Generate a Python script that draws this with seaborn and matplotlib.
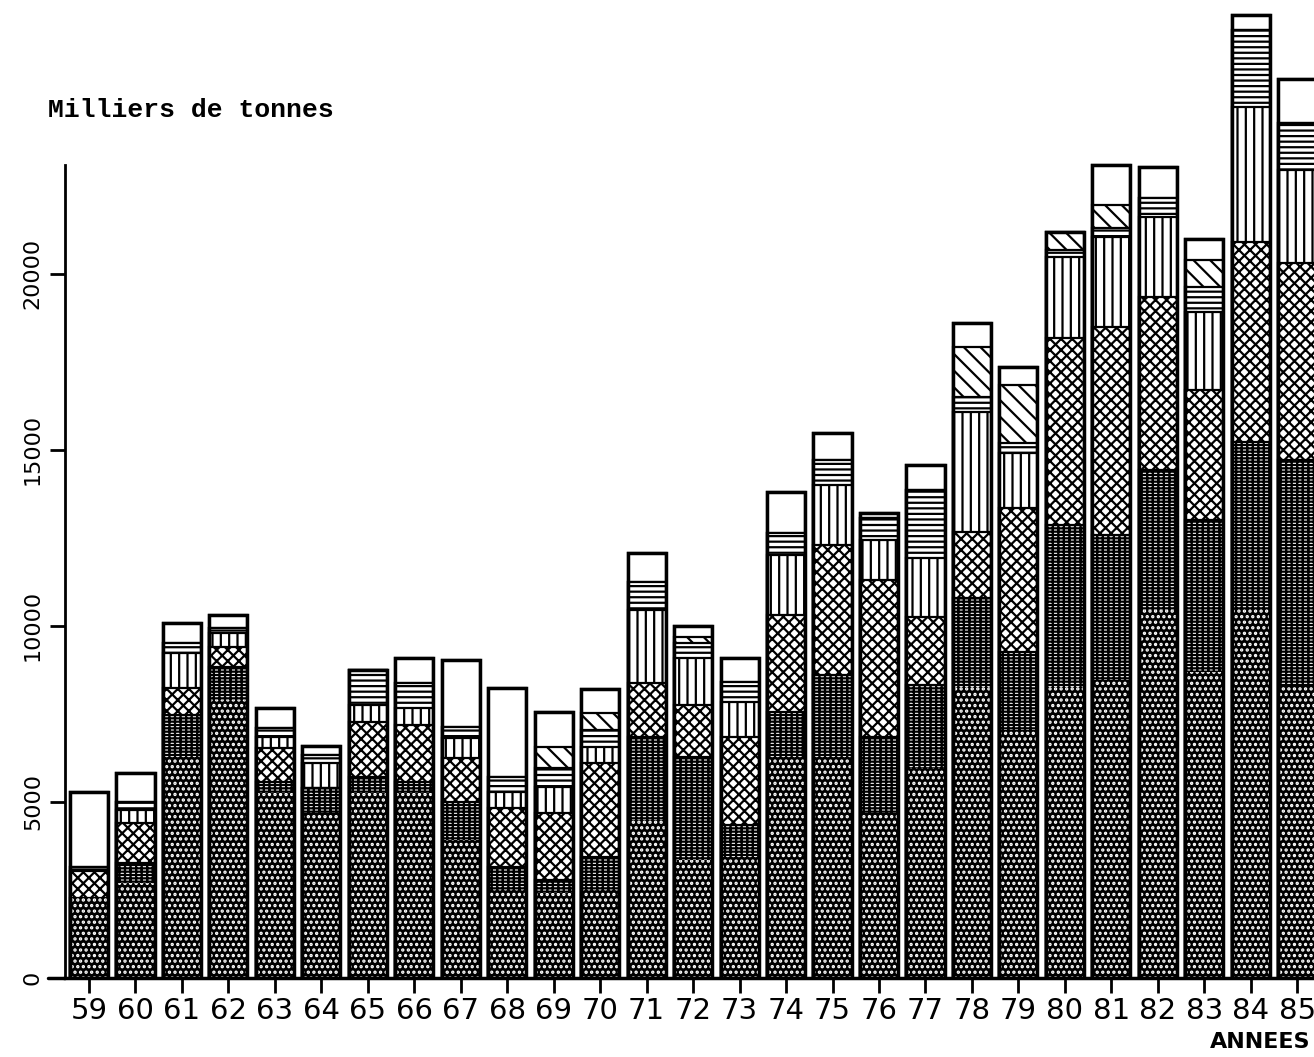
import numpy as np
import pandas as pd
import seaborn as sns
import matplotlib.pyplot as plt

# Années (1959-1985)
annees = ['59', '60', '61', '62', '63', '64', '65', '66', '67', '68', '69', '70', '71',
          '72', '73', '74', '75', '76', '77', '78', '79', '80', '81', '82', '83', '84', '85']

# Milliers de tonnes, par couche (du bas vers le haut)
points = [2270, 2700, 6280, 7900, 5250, 4690, 5250, 5250, 3920, 2500, 2410, 2500, 4490,
          3350, 3440, 6280, 6280, 4690, 5960, 8260, 7040, 8260, 8460, 10450, 8690, 10510, 8320]
briques = [0, 570, 1190, 930, 320, 710, 460, 320, 1080, 650, 370, 940, 2350,
           2930, 910, 1270, 2320, 2150, 2360, 2530, 2220, 4610, 4120, 3980, 4320, 4710, 6390]
croisillons = [770, 1130, 770, 570, 960, 0, 1560, 1620, 1250, 1680, 1910, 2670, 1540,
               1470, 2490, 2760, 3700, 4460, 1930, 1880, 4090, 5310, 5910, 4910, 3690, 5680, 5600]
verticales = [0, 370, 990, 400, 310, 710, 480, 480, 570, 450, 730, 450, 2070,
              1340, 1000, 1700, 1700, 1140, 1680, 3400, 1560, 2300, 2550, 2270, 2210, 3840, 2640]
horizontales = [110, 230, 280, 140, 260, 220, 1000, 710, 310, 430, 540, 480, 800,
                420, 570, 630, 710, 620, 1930, 430, 280, 190, 260, 540, 710, 2180, 1330]
obliques = [0, 0, 0, 0, 0, 0, 0, 0, 0, 0, 600, 490, 0,
            170, 0, 0, 0, 0, 0, 1420, 1650, 520, 650, 0, 770, 0, 0]
blanc = [2130, 820, 570, 370, 570, 260, 0, 710, 1900, 2530, 990, 680, 820,
         320, 680, 1160, 770, 150, 710, 680, 510, 0, 1140, 880, 600, 430, 1250]

couches = [points, briques, croisillons, verticales, horizontales, obliques, blanc]
# (face, couleur du motif, motif)
styles = [('black', 'white', '...'),
          ('white', 'black', '-----|||'),
          ('white', 'black', 'xxx'),
          ('white', 'black', '||'),
          ('white', 'black', '---'),
          ('white', 'black', '\\\\'),
          ('white', 'black', '')]

df = pd.DataFrame({'annee': annees})
cumul = np.cumsum(np.array(couches), axis=0)

sns.set_style('white')
plt.rcParams['font.family'] = ['DejaVu Sans']
plt.rcParams['hatch.linewidth'] = 1.6
plt.rcParams['text.color'] = 'black'
plt.rcParams['xtick.color'] = 'black'
plt.rcParams['ytick.color'] = 'black'

fig = plt.figure(figsize=(13.14, 10.57), dpi=100)
ax = fig.add_axes([0.0495, 0.0747, 0.9505, 0.9253])

# on dessine les cumuls du haut vers le bas, chaque couche recouvre la suivante
for k in range(len(couches) - 1, -1, -1):
    n = len(ax.patches)
    df['h'] = cumul[k]
    sns.barplot(data=df, x='annee', y='h', color='white', width=0.82,
                saturation=1, errorbar=None, ax=ax)
    face, motif_col, motif = styles[k]
    for p in ax.patches[n:]:
        p.set_facecolor(face)
        p.set_hatch(motif)
        if face == 'black':
            p.set_edgecolor(motif_col)
            p.set_linewidth(0)
        else:
            p.set_edgecolor('black')
            p.set_linewidth(1.6)

# contour des barres
n = len(ax.patches)
df['h'] = cumul[-1]
sns.barplot(data=df, x='annee', y='h', color='white', width=0.82,
            saturation=1, errorbar=None, ax=ax)
for p in ax.patches[n:]:
    p.set_facecolor('none')
    p.set_edgecolor('black')
    p.set_linewidth(2.5)

ax.set_xlim(-0.515, 26.36)
ax.set_ylim(0, 27775)
ax.set_xlabel('')
ax.set_ylabel('')
ax.set_yticks([0, 5000, 10000, 15000, 20000])
ax.set_yticklabels(['0', '5000', '10000', '15000', '20000'], rotation=90, va='center', fontsize=16)
ax.tick_params(axis='y', length=11, width=2, pad=5, left=True, colors='black')
ax.tick_params(axis='x', length=11, width=2, pad=3, bottom=True, labelsize=21, colors='black')
for s in ['top', 'right']:
    ax.spines[s].set_visible(False)
ax.spines['left'].set_bounds(0, 23100)
ax.spines['left'].set_linewidth(2)
ax.spines['left'].set_color('black')
ax.spines['bottom'].set_linewidth(2.5)
ax.spines['bottom'].set_color('black')
ax.plot([-0.014, 0], [0, 0], transform=ax.transAxes, color='black', lw=2.5, clip_on=False)

fig.text(48 / 1314, 1 - 110 / 1057, 'Milliers de tonnes', family='Liberation Mono',
         weight='bold', fontsize=19, va='center', ha='left', color='black')
fig.text(1310 / 1314, 1 - 1042 / 1057, 'ANNEES', weight='bold', fontsize=16,
         va='center', ha='right', color='black')

fig.savefig('out.png', dpi=100)
